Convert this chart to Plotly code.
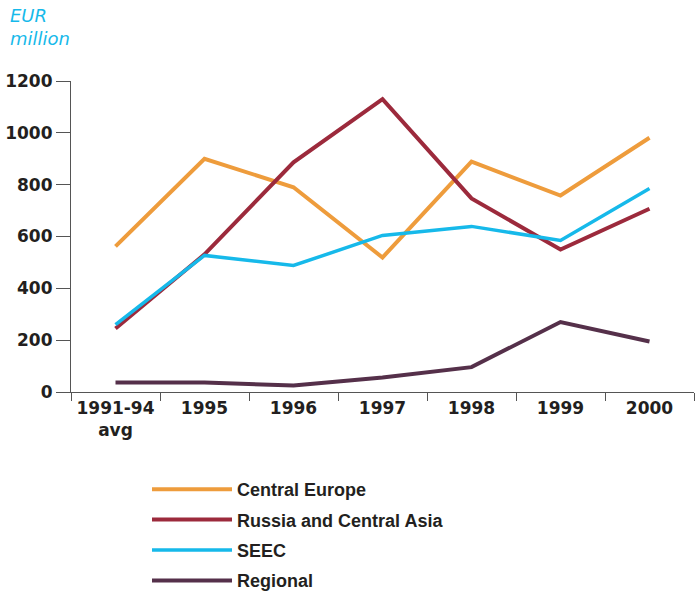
import plotly.graph_objects as go

categories = ["1991-94<br>avg", "1995", "1996", "1997", "1998", "1999", "2000"]
central_europe = [562, 900, 790, 519, 889, 758, 981]
russia_central_asia = [245, 531, 886, 1130, 747, 550, 707]
seec = [260, 527, 488, 604, 639, 585, 785]
regional = [37, 37, 25, 56, 96, 270, 195]

series = [
    ("Central Europe", central_europe, "#EE9C3C", 4),
    ("Russia and Central Asia", russia_central_asia, "#9C2A3C", 4),
    ("SEEC", seec, "#16B9EA", 3.5),
    ("Regional", regional, "#55304A", 4),
]

fig = go.Figure()
for i, (name, vals, color, w) in enumerate(series):
    fig.add_trace(go.Scatter(
        x=categories, y=vals, name=name, mode="lines",
        line=dict(color=color, width=w), legendgroup=f"g{i}",
    ))

tick_font = "DejaVu Sans, sans-serif"
legend_font = "Liberation Sans, Arial, sans-serif"
text_color = "#231F20"
PW, PH = 623, 311  # plot area size in px

fig.update_layout(
    width=695, height=596,
    margin=dict(l=71, r=1, t=81, b=204, autoexpand=False),
    paper_bgcolor="white", plot_bgcolor="white",
    font=dict(family=tick_font, color=text_color, size=17),
    showlegend=True,
    legend=dict(
        x=(147 - 71) / PW, y=-(471 - 392) / PH, xanchor="left", yanchor="top",
        orientation="v",
        font=dict(family=legend_font, size=18, color=text_color, weight="bold"),
        tracegroupgap=4, itemwidth=80, bgcolor="rgba(0,0,0,0)",
    ),
    xaxis=dict(
        type="category", range=[-0.5, 6.5], showgrid=False,
        showline=True, linecolor="#555555", linewidth=1.2,
        ticks="outside", tickson="boundaries", ticklen=8,
        tickcolor="#555555", tickwidth=1.2,
        tickfont=dict(family=tick_font, size=17, color=text_color, weight="bold"),
    ),
    yaxis=dict(
        range=[0, 1200], showgrid=False, zeroline=False,
        showline=True, linecolor="#555555", linewidth=1.2,
        ticks="outside", ticklen=14, tickcolor="#555555", tickwidth=1.2,
        tickvals=[0, 200, 400, 600, 800, 1000, 1200],
        tickfont=dict(family=tick_font, size=17, color=text_color, weight="bold"),
    ),
    annotations=[
        dict(text="<i>EUR<br>million</i>", x=(8 - 71) / PW, y=1 + (81 - 3) / PH,
             xref="paper", yref="paper",
             showarrow=False, align="left", xanchor="left", yanchor="top",
             font=dict(family=tick_font, size=18, color="#16B9EA")),
    ],
)

fig.write_html(
    "out.html",
    config={"displayModeBar": False},
    post_script="document.body.style.margin='0';document.body.style.overflow='hidden';",
)
